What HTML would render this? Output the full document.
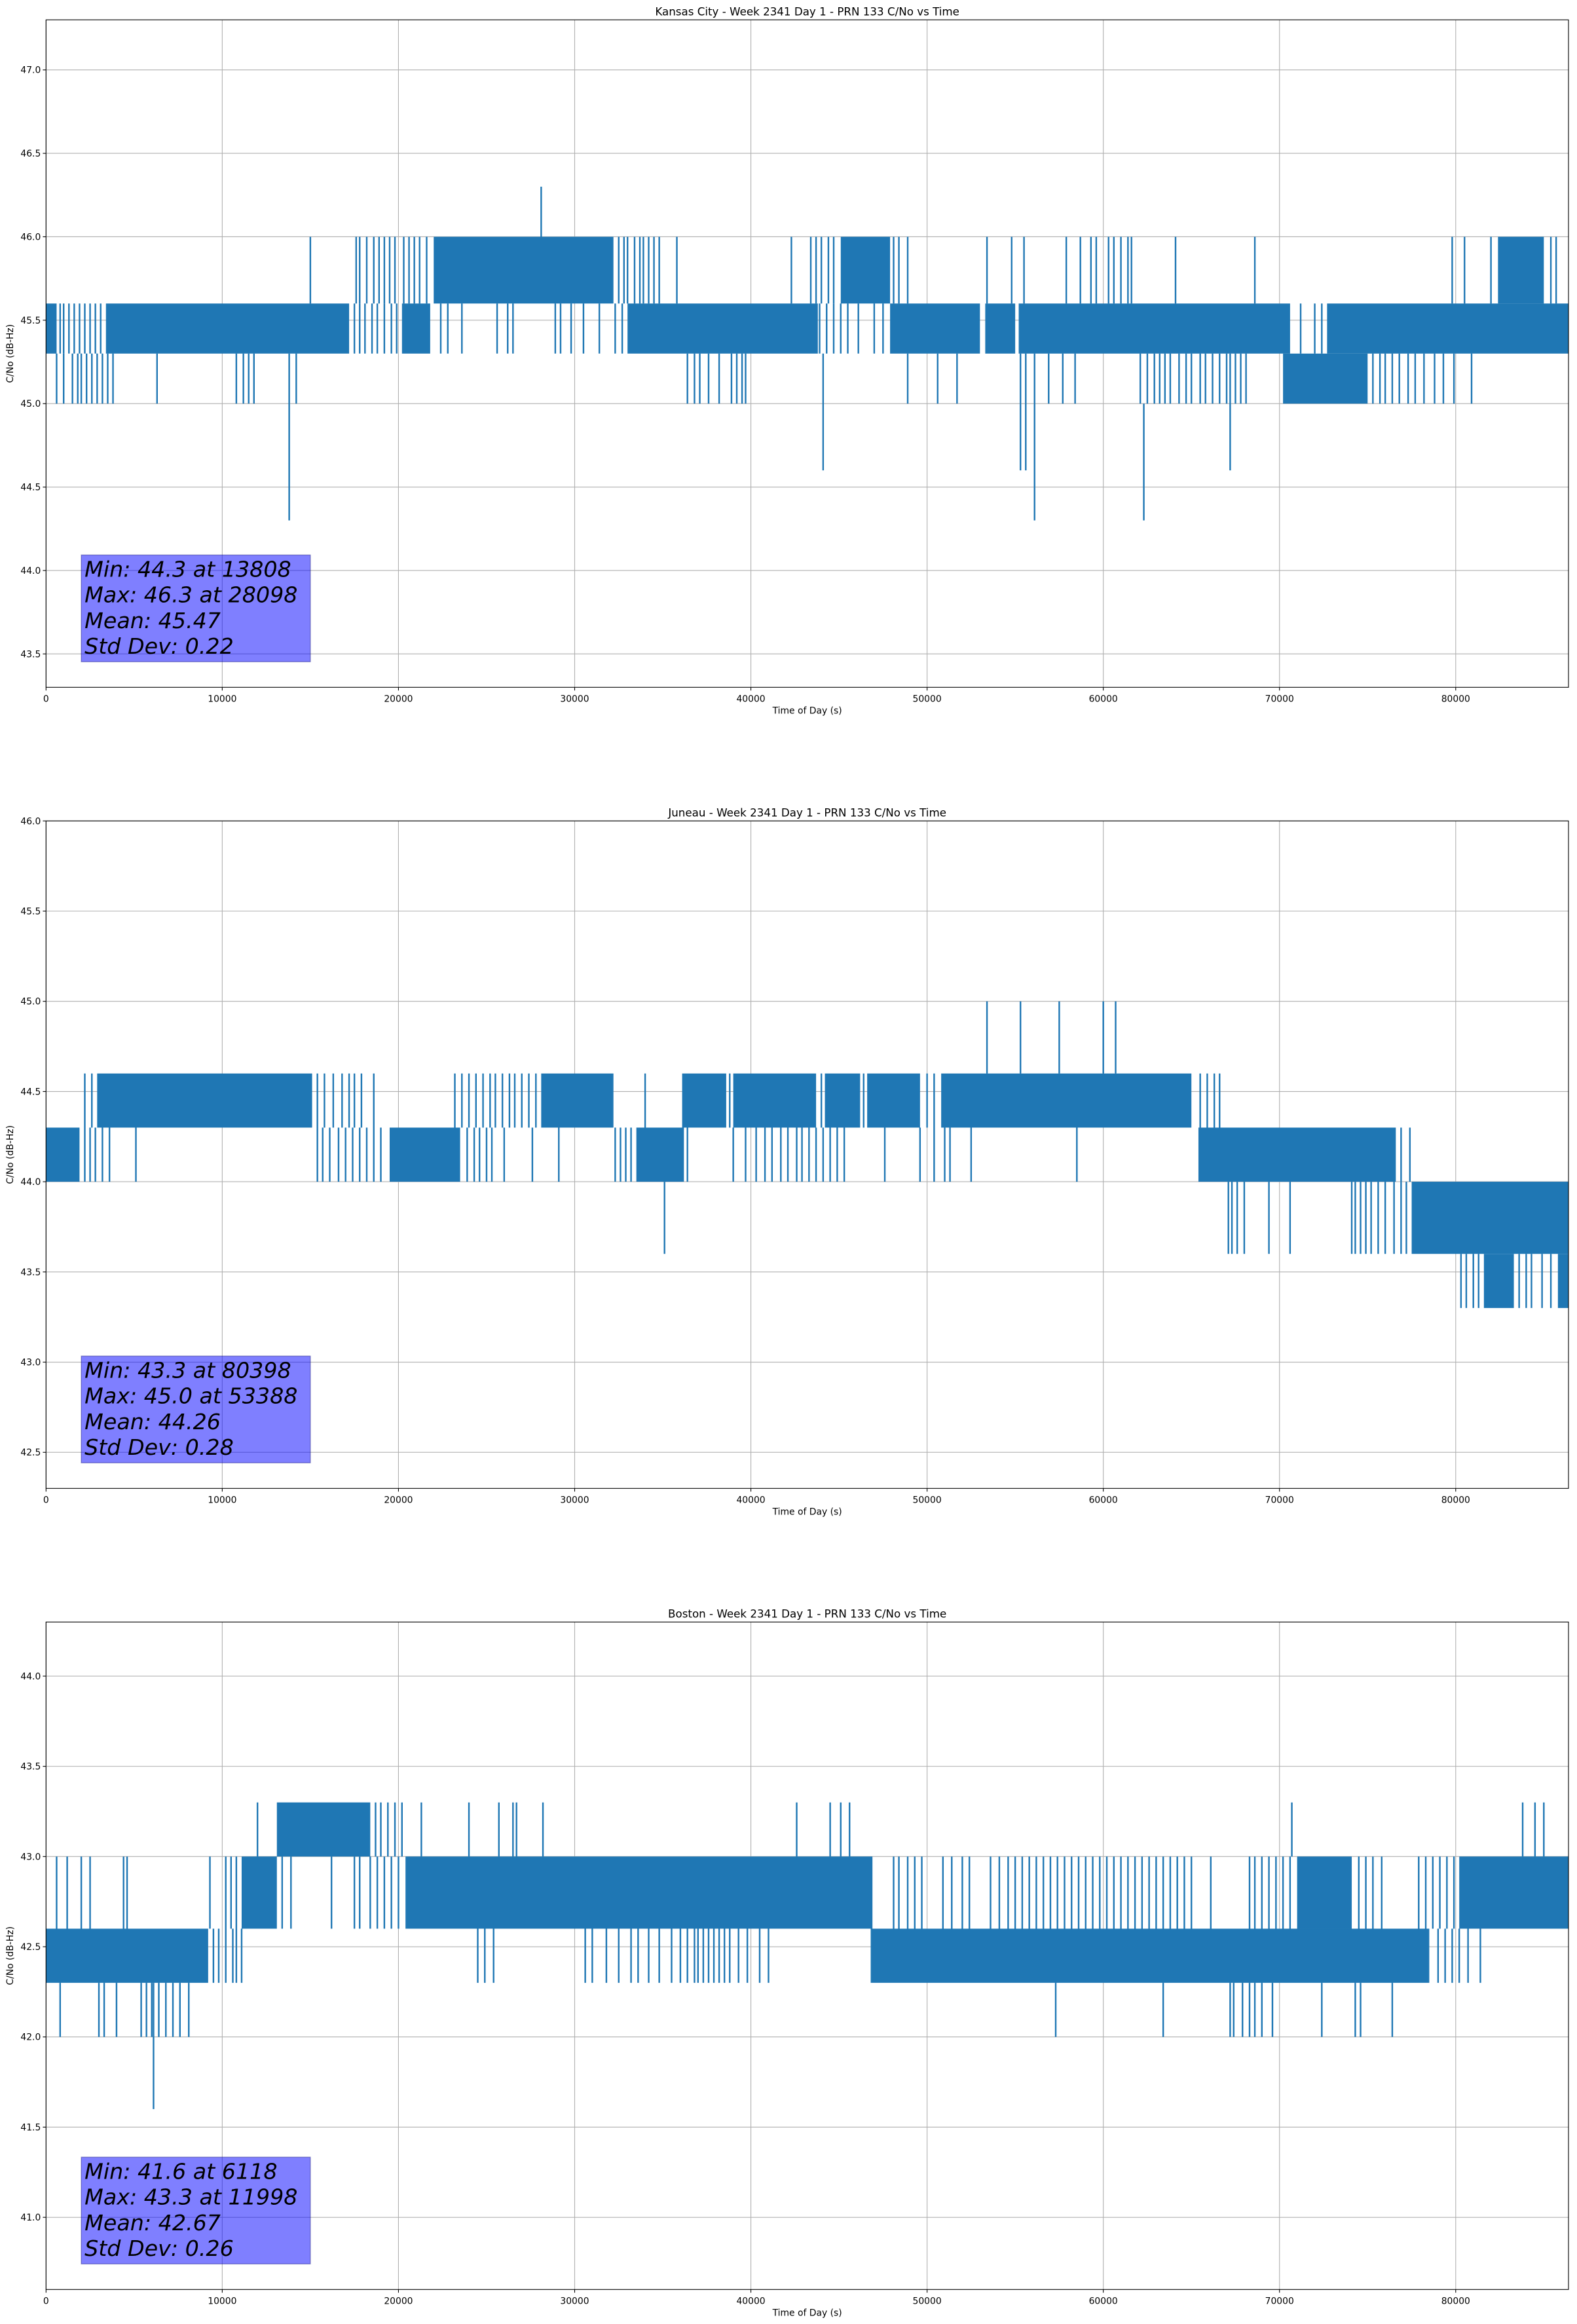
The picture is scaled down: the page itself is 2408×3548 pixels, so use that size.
<!DOCTYPE html>
<html><head><meta charset="utf-8"><title>PRN 133 C/No vs Time</title>
<style>
html,body{margin:0;padding:0;background:#fff;}
svg{display:block;font-family:"DejaVu Sans","Liberation Sans",sans-serif;}
</style></head>
<body>
<svg id="fig" xmlns="http://www.w3.org/2000/svg" width="2408" height="3548" viewBox="0 0 2408 3548"></svg>
<script>
// ===== Data (times in thousands of seconds, values in dB-Hz) =====
// ---- Chart 1: Kansas City ----
const kcTitle = "Kansas City - Week 2341 Day 1 - PRN 133 C/No vs Time";
const kcYTicks = [43.5, 44.0, 44.5, 45.0, 45.5, 46.0, 46.5, 47.0];
const kcYLim = [43.3, 47.3];
const kcBandLow = [45.3, 45.6, 45.0];
const kcBandHigh = [45.6, 46.0, 45.3];
const kcDense = [
  [[0,0.6],[3.4,17.2],[20.2,21.8],[33.0,43.8],[47.9,53.0],[53.3,55.0],[55.2,70.6],[72.7,86.4]],
  [[22.0,32.2],[45.1,47.9],[82.4,85.0]],
  [[70.2,75.0]]
];
const kcLines = [
  [0.8,1.0,1.3,1.6,1.9,2.2,2.5,2.8,3.1,17.5,17.8,18.1,18.5,18.8,19.2,19.6,19.9,22.4,22.8,23.6,25.6,26.2,26.5,28.9,29.2,29.8,30.5,31.4,32.3,32.7,43.9,44.3,44.7,45.1,45.5,46.1,47.0,47.5,71.2,72.0,72.4],
  [15.0,17.6,17.8,18.2,18.6,18.9,19.2,19.5,19.8,20.3,20.6,20.9,21.2,21.6,32.5,32.8,33.0,33.4,33.7,33.9,34.2,34.5,34.8,35.8,42.3,43.4,43.7,44.0,44.4,44.7,48.1,48.4,48.9,53.4,54.8,55.5,57.9,58.7,59.3,59.6,60.3,60.6,61.0,61.4,61.6,64.1,68.6,79.8,80.5,82.0,85.4,85.7],
  [0.6,1.0,1.5,1.8,2.0,2.3,2.6,2.9,3.2,3.5,3.8,6.3,10.8,11.2,11.5,11.8,14.2,36.4,36.8,37.1,37.6,38.2,38.9,39.2,39.5,39.7,48.9,50.6,51.7,56.9,57.7,58.4,62.1,62.5,62.9,63.2,63.5,63.8,64.3,64.7,65.0,65.5,65.8,66.2,66.6,67.0,67.5,67.8,68.1,75.3,75.7,76.0,76.4,76.8,77.3,77.7,78.2,78.8,79.3,79.9,80.9]
];
const kcSpikeT = [13.8, 28.1, 44.1, 55.3, 55.6, 56.1, 62.3, 67.2];
const kcSpikeLow = [44.3, 46.0, 44.6, 44.6, 44.6, 44.3, 44.3, 44.6];
const kcSpikeHigh = [45.3, 46.3, 45.3, 45.3, 45.3, 45.3, 45.0, 45.3];
const kcStats = ["Min: 44.3 at 13808", "Max: 46.3 at 28098", "Mean: 45.47", "Std Dev: 0.22"];

// ---- Chart 2: Juneau ----
const juTitle = "Juneau - Week 2341 Day 1 - PRN 133 C/No vs Time";
const juYTicks = [42.5, 43.0, 43.5, 44.0, 44.5, 45.0, 45.5, 46.0];
const juYLim = [42.3, 46.0];
const juBandLow = [44.0, 44.3, 43.6, 43.3];
const juBandHigh = [44.3, 44.6, 44.0, 43.6];
const juDense = [
  [[0,1.9],[19.5,23.5],[33.5,36.2],[65.4,76.6]],
  [[2.9,15.1],[28.1,32.2],[36.1,38.6],[39.0,43.7],[44.2,46.2],[46.6,49.6],[50.8,65.0]],
  [[77.5,86.4]],
  [[81.6,83.3],[85.8,86.4]]
];
const juLines = [
  [2.2,2.5,2.8,3.2,3.6,5.1,15.4,15.7,16.1,16.6,17.0,17.4,17.8,18.2,18.6,19.0,23.9,24.3,24.6,25.0,25.3,26.0,27.6,29.1,32.3,32.6,32.9,33.2,36.4,39.0,39.7,40.3,40.8,41.2,41.7,42.1,42.6,42.9,43.3,43.7,44.1,44.5,44.9,45.3,47.6,49.6,50.4,51.0,51.3,52.5,58.5,76.9,77.4],
  [2.2,2.6,15.4,15.8,16.3,16.8,17.2,17.5,17.9,18.6,23.2,23.6,24.0,24.4,24.8,25.2,25.5,25.9,26.3,26.6,27.0,27.4,27.8,34.0,38.8,44.0,46.4,50.0,50.4,65.5,65.9,66.3,66.6],
  [67.1,67.3,67.6,68.0,69.4,70.6,74.1,74.3,74.6,74.9,75.2,75.6,76.0,76.5,76.9,77.2],
  [80.3,80.6,81.0,81.3,83.6,84.0,84.3,84.9,85.4]
];
const juSpikeT = [35.1, 53.4, 55.3, 57.5, 60.0, 60.7];
const juSpikeLow = [43.6, 44.6, 44.6, 44.6, 44.6, 44.6];
const juSpikeHigh = [44.0, 45.0, 45.0, 45.0, 45.0, 45.0];
const juStats = ["Min: 43.3 at 80398", "Max: 45.0 at 53388", "Mean: 44.26", "Std Dev: 0.28"];

// ---- Chart 3: Boston ----
const boTitle = "Boston - Week 2341 Day 1 - PRN 133 C/No vs Time";
const boYTicks = [41.0, 41.5, 42.0, 42.5, 43.0, 43.5, 44.0];
const boYLim = [40.6, 44.3];
const boBandLow = [42.3, 42.6, 43.0, 42.0];
const boBandHigh = [42.6, 43.0, 43.3, 42.3];
const boDense = [
  [[0,9.2],[46.8,78.5]],
  [[11.1,13.1],[20.4,46.9],[71.0,74.1],[80.2,86.4]],
  [[13.1,18.4]],
  []
];
const boLines = [
  [9.5,9.8,10.2,10.6,10.8,11.1,24.5,24.9,25.4,30.6,31.0,31.8,32.5,33.2,33.6,34.2,34.8,35.5,36.0,36.4,36.8,37.0,37.3,37.6,37.9,38.2,38.5,38.8,39.3,39.8,40.5,41.0,79.0,79.4,79.8,80.2,80.7,81.4],
  [0.6,1.2,2.0,2.5,4.4,4.6,9.3,10.2,10.5,10.8,13.4,13.9,16.2,17.5,17.8,18.4,18.8,19.2,19.6,20.0,48.1,48.4,48.9,49.3,49.7,50.9,51.4,52.0,52.4,53.6,54.1,54.6,55.0,55.4,55.8,56.2,56.6,57.0,57.4,57.8,58.2,58.6,59.0,59.4,59.8,60.2,60.6,61.0,61.4,61.8,62.2,62.6,63.0,63.4,63.8,64.2,64.6,65.0,66.1,68.3,68.6,69.0,69.4,69.8,70.2,70.6,74.5,74.9,75.3,75.8,77.9,78.3,78.7,79.1,79.5,79.9],
  [12.0,18.7,19.0,19.4,19.8,20.2,21.3,24.0,25.7,26.5,26.7,28.2,42.6,44.5,45.1,45.6,70.7,83.8,84.5,85.0],
  [0.8,3.0,3.3,4.0,5.4,5.7,6.0,6.4,6.8,7.2,7.6,8.1,57.3,63.4,67.2,67.4,67.9,68.3,68.6,69.0,69.6,72.4,74.3,74.6,76.4]
];
const boSpikeT = [6.1];
const boSpikeLow = [41.6];
const boSpikeHigh = [42.3];
const boStats = ["Min: 41.6 at 6118", "Max: 43.3 at 11998", "Mean: 42.67", "Std Dev: 0.26"];

const xTicks = [0, 10000, 20000, 30000, 40000, 50000, 60000, 70000, 80000];
const xLim = [0, 86400];

// ===== Rendering =====
const NS = "http://www.w3.org/2000/svg";
const svg = document.getElementById('fig');
const L = 70.3, R = 2395, H = 1019;
const tops = [30.3, 1253.3, 2476.3];
const COLOR = "#1f77b4";

function mk(tag, attrs, parent) {
  const e = document.createElementNS(NS, tag);
  for (const k in attrs) e.setAttribute(k, attrs[k]);
  parent.appendChild(e);
  return e;
}

function drawChart(idx, key, title, yTicks, yLim, bandLow, bandHigh, dense, lines, spT, spLo, spHi, stats) {
  const top = tops[idx], bot = top + H;
  const xs = t => L + (t - xLim[0]) / (xLim[1] - xLim[0]) * (R - L);
  const xk = k => xs(k * 1000);
  const ys = v => bot - (v - yLim[0]) / (yLim[1] - yLim[0]) * H;

  const g = mk('g', {}, svg);
  
  

  const grid = mk('g', {stroke: '#b0b0b0', 'stroke-width': 1.1}, g);
  
  
  xTicks.forEach(t => { mk('line', {x1: xs(t), x2: xs(t), y1: top, y2: bot}, grid); });
  yTicks.forEach(v => { mk('line', {x1: L, x2: R, y1: ys(v), y2: ys(v)}, grid); });

  const data = mk('g', {fill: COLOR, stroke: COLOR}, g);
  
  
  dense.forEach((ranges, b) => {
    ranges.forEach(r => {
      const rect = mk('rect', {x: xk(r[0]), y: ys(bandHigh[b]), width: Math.max(2, xk(r[1]) - xk(r[0])), height: ys(bandLow[b]) - ys(bandHigh[b]), stroke: 'none'}, data);
      
      
    });
  });
  lines.forEach((ts, b) => {
    ts.forEach(t => {
      const ln = mk('line', {x1: xk(t), x2: xk(t), y1: ys(bandHigh[b]), y2: ys(bandLow[b]), 'stroke-width': 2.4}, data);
      
      
    });
  });
  spT.forEach((t, i) => {
    const ln = mk('line', {x1: xk(t), x2: xk(t), y1: ys(spHi[i]), y2: ys(spLo[i]), 'stroke-width': 2.4}, data);
    
    
  });

  const sb = mk('g', {}, g);
  
  
  const boxBot = bot - 39, boxTop = boxBot - 163;
  mk('rect', {x: xs(2000), y: boxTop, width: xs(15000) - xs(2000), height: 163, fill: 'rgba(0,0,255,0.5)', stroke: 'rgba(0,0,110,0.35)', 'stroke-width': 1.5}, sb);
  stats.forEach((s, i) => {
    const t = mk('text', {x: xs(2000) + 5, y: boxTop + 33 + i * 39.3, 'font-size': 33.3, 'font-style': 'italic', fill: '#000'}, sb);
    
    
    t.textContent = s;
  });

  const sp = mk('rect', {x: L, y: top, width: R - L, height: H, fill: 'none', stroke: '#000', 'stroke-width': 1.1}, g);
  
  

  const xa = mk('g', {}, g);
  
  
  xTicks.forEach(t => {
    mk('line', {x1: xs(t), x2: xs(t), y1: bot, y2: bot + 4.9, stroke: '#000', 'stroke-width': 1.1}, xa);
    const tx = mk('text', {x: xs(t), y: bot + 22, 'font-size': 13.9, 'text-anchor': 'middle', fill: '#000'}, xa);
    
    
    tx.textContent = String(t);
  });
  const xl = mk('text', {x: (L + R) / 2, y: bot + 40, 'font-size': 13.9, 'text-anchor': 'middle', fill: '#000'}, g);
  
  
  xl.textContent = "Time of Day (s)";

  const ya = mk('g', {}, g);
  
  
  yTicks.forEach(v => {
    mk('line', {x1: L - 4.9, x2: L, y1: ys(v), y2: ys(v), stroke: '#000', 'stroke-width': 1.1}, ya);
    const ty = mk('text', {x: L - 8, y: ys(v) + 5, 'font-size': 13.9, 'text-anchor': 'end', fill: '#000'}, ya);
    
    
    ty.textContent = v.toFixed(1);
  });
  const yc = top + H / 2;
  const yl = mk('text', {x: 20, y: yc, 'font-size': 13.9, 'text-anchor': 'middle', fill: '#000', transform: 'rotate(-90 20 ' + yc + ')'}, g);
  
  
  yl.textContent = "C/No (dB-Hz)";

  const tt = mk('text', {x: (L + R) / 2, y: top - 7, 'font-size': 16.7, 'text-anchor': 'middle', fill: '#000'}, g);
  
  
  tt.textContent = title;
}

drawChart(0, 'kansas-city', kcTitle, kcYTicks, kcYLim, kcBandLow, kcBandHigh, kcDense, kcLines, kcSpikeT, kcSpikeLow, kcSpikeHigh, kcStats);
drawChart(1, 'juneau', juTitle, juYTicks, juYLim, juBandLow, juBandHigh, juDense, juLines, juSpikeT, juSpikeLow, juSpikeHigh, juStats);
drawChart(2, 'boston', boTitle, boYTicks, boYLim, boBandLow, boBandHigh, boDense, boLines, boSpikeT, boSpikeLow, boSpikeHigh, boStats);
</script>
</body></html>
